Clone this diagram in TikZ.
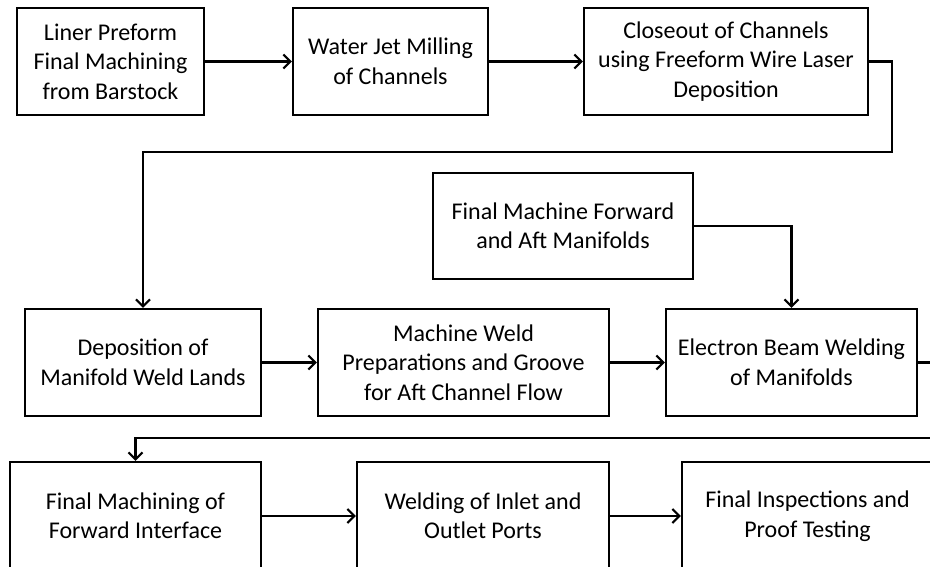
\documentclass[tikz,border=0pt]{standalone}
\usepackage{fontspec}
\setmainfont{Carlito}
\usetikzlibrary{arrows.meta}

\begin{document}
\begin{tikzpicture}[x=1pt, y=-1pt, line width=2.2pt,
    box/.style={draw, align=center, inner sep=0pt,
      font=\fontsize{24}{29.5}\selectfont},
    flow/.style={-{Straight Barb[length=7pt, width=14pt]}}]
    \useasboundingbox (0, 0) rectangle (930, 567);
    \clip (0, 0) rectangle (930, 567);

    % first row
    \node[box, minimum width=187, minimum height=107] (liner) at (110.5, 61.5)
      {Liner Preform\\Final Machining\\from Barstock};
    \node[box, minimum width=195, minimum height=107] (jet) at (390.5, 61.5)
      {Water Jet Milling\\of Channels};
    \node[box, minimum width=284, minimum height=107] (closeout) at (726, 61.5)
      {Closeout of Channels\\using Freeform Wire Laser\\Deposition};

    % manifolds
    \node[box, minimum width=260, minimum height=106] (manif) at (563, 226)
      {Final Machine Forward\\and Aft Manifolds};

    % second row
    \node[box, minimum width=236, minimum height=107] (depo) at (143, 362.5)
      {Deposition of\\Manifold Weld Lands};
    \node[box, minimum width=291, minimum height=107] (prep) at (463.5, 362.5)
      {Machine Weld\\Preparations and Groove\\for Aft Channel Flow};
    \node[box, minimum width=251, minimum height=107] (ebw) at (791.5, 362.5)
      {Electron Beam Welding\\of Manifolds};

    % third row
    \node[box, minimum width=251, minimum height=108] (fwd) at (135.5, 516)
      {Final Machining of\\Forward Interface};
    \node[box, minimum width=252, minimum height=108] (ports) at (483, 516)
      {Welding of Inlet and\\Outlet Ports};
    \node[box, minimum width=251, minimum height=108] (proof) at (807.5, 516)
      {Final Inspections and\\Proof Testing};

    \coordinate (turn1) at (892, 152);
    \coordinate (turn2) at (950, 438);

    \draw[flow] (liner) -- (jet);
    \draw[flow] (jet) -- (closeout);
    \draw[flow] (closeout.east) -| (turn1) -| (depo.north);
    \draw[flow] (manif.east) -| (ebw.north);
    \draw[flow] (depo) -- (prep);
    \draw[flow] (prep) -- (ebw);
    \draw[flow] (ebw.east) -| (turn2) -| (fwd.north);
    \draw[flow] (fwd) -- (ports);
    \draw[flow] (ports) -- (proof);
\end{tikzpicture}
\end{document}
